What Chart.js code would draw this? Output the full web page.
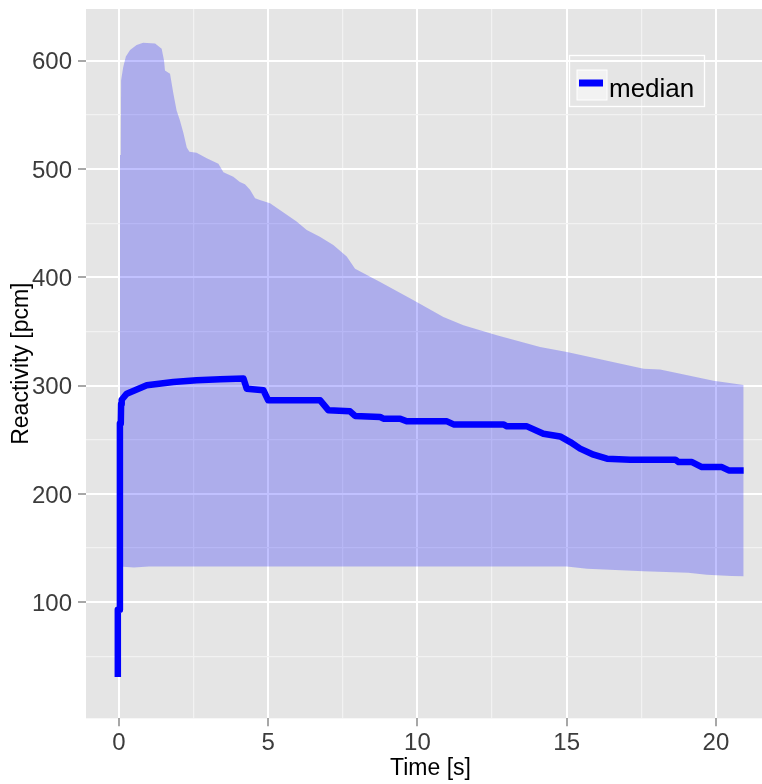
<!DOCTYPE html>
<html>
<head>
<meta charset="utf-8">
<script src="https://cdn.jsdelivr.net/npm/chart.js@4.4.0/dist/chart.umd.min.js"></script>
<style>
  html, body { margin: 0; padding: 0; background: #fff; }
  #wrap { width: 762px; height: 784px; overflow: hidden; }
  canvas { display: block; }
</style>
</head>
<body>
<div id="wrap"><canvas id="reactivityChart" width="775" height="784"></canvas></div>
<script>
// upper edge of the band [s] / [pcm]
const upperTime = [0.03, 0.06, 0.07, 0.14, 0.23, 0.37, 0.59, 0.81, 1.21, 1.43, 1.51, 1.54, 1.71, 1.82, 1.93,
  2.04, 2.16, 2.27, 2.36, 2.60, 2.94, 3.33, 3.50, 3.83, 4.05, 4.22, 4.39, 4.56, 4.72, 5.06, 5.39, 5.95,
  6.29, 6.73, 7.18, 7.63, 7.91, 8.75, 9.87, 10.87, 11.54, 12.66, 14.11, 15.01, 16.01, 17.58, 18.13,
  18.81, 19.92, 20.93];
const upperValue = [513, 513, 582, 594, 604, 610, 614.5, 616.7, 616, 611, 600, 591, 588, 570, 554,
  545, 533, 520, 516, 515, 510, 505, 497, 493, 488, 486, 481, 473, 471.5, 468.5, 462.3, 451.5,
  443.8, 437.6, 429.9, 419.2, 408, 395.8, 378.8, 363.4, 355.7, 346.5, 335.7, 331, 325, 315.7, 315,
  311, 304.5, 300.5];

// lower edge of the band
const lowerTime = [0.03, 0.5, 1.0, 15.0, 15.68, 17.57, 19.07, 19.69, 20.52, 20.93];
const lowerValue = [133, 132, 133, 133, 131, 128.7, 127.2, 125.3, 124.1, 124];

// median reactivity
const medianTime = [-0.04, -0.04, 0.03, 0.03, 0.06, 0.07, 0.09, 0.26, 0.93, 1.82, 2.60, 3.39, 4.17, 4.28,
  4.84, 5.0, 6.74, 7.02, 7.74, 7.91, 8.75, 8.86, 9.42, 9.64, 10.99, 11.21, 12.88, 13.0, 13.67, 14.22,
  14.78, 15.12, 15.45, 15.9, 16.35, 17.13, 18.64, 18.75, 19.2, 19.53, 20.2, 20.43, 20.93];
const medianValue = [31, 93, 93, 265, 265, 283, 287, 292.6, 300.3, 303.3, 304.9, 305.8, 306.5, 297.2,
  295.7, 286.4, 286.4, 277.2, 276.3, 272, 271, 269.5, 269.5, 267, 267, 264.2, 264.2, 262.4, 262.4, 255.6,
  253.1, 247.9, 241.8, 236.2, 232.5, 231.6, 231.6, 229.4, 229.4, 224.8, 224.8, 221.7, 221.7];

const xMajorTicks = [0, 5, 10, 15, 20];
const xMinorTicks = [2.5, 7.5, 12.5, 17.5];
const yMajorTicks = [100, 200, 300, 400, 500, 600];
const yMinorTicks = [50, 150, 250, 350, 450, 550];

const FONT = "'Liberation Sans', Arial, sans-serif";

function toPoints(xs, ys) {
  return xs.map((x, i) => ({ x: x, y: ys[i] }));
}

function gridTicks(major, minor) {
  return major.concat(minor).sort((a, b) => a - b).map(v => ({ value: v }));
}

// grey panel behind the grid
const panelBackground = {
  id: 'panelBackground',
  beforeDraw(chart) {
    const { ctx, chartArea: a } = chart;
    ctx.save();
    ctx.fillStyle = '#E5E5E5';
    ctx.fillRect(a.left, a.top, a.right - a.left, a.bottom - a.top);
    ctx.restore();
  }
};

// legend box sitting inside the panel
const insetLegend = {
  id: 'insetLegend',
  afterDraw(chart) {
    const ctx = chart.ctx;
    const ds = chart.data.datasets[0];
    ctx.save();
    ctx.strokeStyle = '#FFFFFF';
    ctx.lineWidth = 1.3;
    ctx.strokeRect(569.5, 55.5, 135, 51);

    ctx.fillStyle = '#F2F2F2';
    ctx.fillRect(577, 70, 30, 30);
    ctx.strokeStyle = '#FFFFFF';
    ctx.lineWidth = 1;
    ctx.strokeRect(577, 70, 30, 30);

    ctx.strokeStyle = ds.borderColor;
    ctx.lineWidth = 7;
    ctx.lineCap = 'butt';
    ctx.beginPath();
    ctx.moveTo(579, 83);
    ctx.lineTo(603, 83);
    ctx.stroke();

    ctx.fillStyle = '#000000';
    ctx.font = '26px ' + FONT;
    ctx.textBaseline = 'alphabetic';
    ctx.fillText(ds.label, 609, 96.5);
    ctx.restore();
  }
};

const ctx = document.getElementById('reactivityChart');

new Chart(ctx, {
  type: 'line',
  data: {
    datasets: [
      {
        label: 'median',
        data: toPoints(medianTime, medianValue),
        borderColor: '#0000FF',
        borderWidth: 6.5,
        borderCapStyle: 'butt',
        borderJoinStyle: 'round',
        pointRadius: 0,
        fill: false
      },
      {
        label: 'upper',
        data: toPoints(upperTime, upperValue),
        borderWidth: 0,
        borderColor: 'rgba(0,0,0,0)',
        backgroundColor: 'rgba(0,0,255,0.245)',
        pointRadius: 0,
        fill: '+1'
      },
      {
        label: 'lower',
        data: toPoints(lowerTime, lowerValue),
        borderWidth: 0,
        borderColor: 'rgba(0,0,0,0)',
        pointRadius: 0,
        fill: false
      }
    ]
  },
  options: {
    responsive: false,
    animation: false,
    devicePixelRatio: 1,
    layout: { padding: { top: 9, right: 0, bottom: 0, left: 0 } },
    plugins: {
      legend: { display: false },
      tooltip: { enabled: false }
    },
    scales: {
      x: {
        type: 'linear',
        min: -1.106,
        max: 21.98,
        afterBuildTicks: axis => { axis.ticks = gridTicks(xMajorTicks, xMinorTicks); },
        afterFit: scale => {
          scale.height = 65.7;
          scale.paddingLeft = 0;
          scale.paddingRight = 0;
        },
        border: { display: false },
        grid: {
          color: c => xMajorTicks.includes(c.tick.value) ? '#FFFFFF' : '#F2F2F2',
          lineWidth: c => xMajorTicks.includes(c.tick.value) ? 2 : 1.2,
          tickColor: c => xMajorTicks.includes(c.tick.value) ? '#8A8A8A' : 'rgba(0,0,0,0)',
          tickWidth: 1.5,
          tickLength: 8
        },
        ticks: {
          autoSkip: false,
          maxRotation: 0,
          padding: 3,
          color: '#3C3C3C',
          font: { family: FONT, size: 24 },
          callback: v => xMajorTicks.includes(v) ? String(v) : ''
        },
        title: {
          display: true,
          text: 'Time [s]',
          color: '#000000',
          font: { family: FONT, size: 23, lineHeight: 1.2 },
          padding: { top: 0, bottom: 2 }
        }
      },
      y: {
        type: 'linear',
        min: -7.2,
        max: 647.8,
        afterBuildTicks: axis => { axis.ticks = gridTicks(yMajorTicks, yMinorTicks); },
        afterFit: scale => {
          scale.width = 86;
          scale.paddingTop = 0;
          scale.paddingBottom = 0;
        },
        border: { display: false },
        grid: {
          color: c => yMajorTicks.includes(c.tick.value) ? '#FFFFFF' : '#F2F2F2',
          lineWidth: c => yMajorTicks.includes(c.tick.value) ? 2 : 1.2,
          tickColor: c => yMajorTicks.includes(c.tick.value) ? '#8A8A8A' : 'rgba(0,0,0,0)',
          tickWidth: 1.5,
          tickLength: 8
        },
        ticks: {
          autoSkip: false,
          padding: 6,
          labelOffset: 2,
          color: '#3C3C3C',
          font: { family: FONT, size: 24 },
          callback: v => yMajorTicks.includes(v) ? String(v) : ''
        },
        title: {
          display: true,
          text: 'Reactivity [pcm]',
          color: '#000000',
          font: { family: FONT, size: 23, lineHeight: 1.2 },
          padding: { top: 7.4, bottom: 0 }
        }
      }
    }
  },
  plugins: [panelBackground, insetLegend]
});
</script>
</body>
</html>
